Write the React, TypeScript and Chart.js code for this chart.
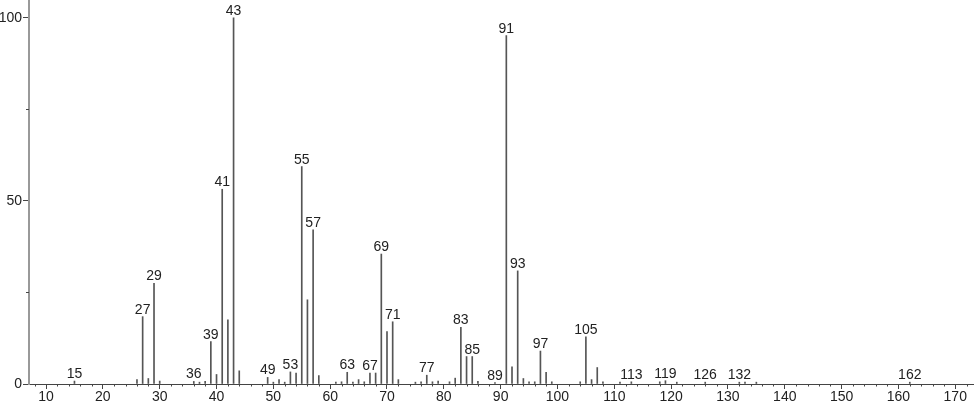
import React, { useEffect, useRef } from "react";
import { Chart, registerables } from "chart.js";

Chart.register(...registerables);

const mz = [
  15, 26, 27, 28, 29, 30, 36, 37, 38, 39, 40, 41, 42, 43, 44, 49, 50, 51, 52, 53,
  54, 55, 56, 57, 58, 61, 62, 63, 64, 65, 66, 67, 68, 69, 70, 71, 72, 75, 76, 77,
  78, 79, 81, 82, 83, 84, 85, 86, 89, 91, 92, 93, 94, 95, 96, 97, 98, 99, 104, 105,
  106, 107, 108, 111, 113, 118, 119, 121, 126, 132, 133, 135, 162,
];
const intensity = [
  0.8, 1.2, 18.4, 1.5, 27.5, 0.8, 0.7, 0.5, 0.7, 11.6, 2.6, 53.2, 17.5, 100, 3.6, 1.8, 0.5, 1.2, 0.5, 3.3,
  3.0, 59.4, 23.0, 42.1, 2.3, 0.5, 0.6, 3.2, 0.5, 1.2, 0.6, 3.0, 3.0, 35.5, 14.3, 17.0, 1.2, 0.5, 0.6, 2.4,
  0.6, 0.8, 0.6, 1.6, 15.5, 7.5, 7.5, 0.7, 0.4, 95.2, 4.7, 30.9, 1.5, 0.6, 0.6, 9.0, 3.2, 0.6, 0.6, 12.9,
  1.2, 4.5, 0.6, 0.5, 0.6, 0.6, 0.9, 0.5, 0.5, 0.5, 0.5, 0.5, 0.5,
];
const labeledMz = [
  15, 27, 29, 36, 39, 41, 43, 49, 53, 55, 57, 63, 67, 69, 71, 77, 83, 85, 89, 91,
  93, 97, 105, 113, 119, 126, 132, 162,
];
const xMin = 7;
const xMax = 173.3;
const yMax = 104.9;
const xMinorStep = 2;
const yMinorTicks = [25, 75];

const FONT = { family: "'Liberation Sans', Arial, sans-serif", size: 14 };
const TEXT = "#222";

export default function App() {
  const ref = useRef<HTMLCanvasElement>(null);

  useEffect(() => {
    if (!ref.current) return;

    const peakLabels = {
      id: "peakLabels",
      afterDatasetsDraw(chart: any) {
        const ctx = chart.ctx;
        const xs = chart.scales.x;
        const ys = chart.scales.y;
        ctx.save();
        ctx.font = `${FONT.size}px ${FONT.family}`;
        ctx.fillStyle = TEXT;
        ctx.textAlign = "center";
        ctx.textBaseline = "alphabetic";
        labeledMz.forEach((m) => {
          const i = mz.indexOf(m);
          if (i < 0) return;
          const px = xs.getPixelForValue(m);
          const py = ys.getPixelForValue(intensity[i]);
          ctx.fillText(String(m), px, py - 3);
        });
        ctx.restore();
      },
    };

    const minorTicks = {
      id: "minorTicks",
      afterDraw(chart: any) {
        const ctx = chart.ctx;
        const xs = chart.scales.x;
        const ys = chart.scales.y;
        const area = chart.chartArea;
        ctx.save();
        ctx.strokeStyle = "#444";
        ctx.lineWidth = 1;
        ctx.beginPath();
        for (let v = Math.ceil(xMin / xMinorStep) * xMinorStep; v <= xMax; v += xMinorStep) {
          if (v % 10 === 0) continue;
          const px = Math.round(xs.getPixelForValue(v)) + 0.5;
          ctx.moveTo(px, area.bottom);
          ctx.lineTo(px, area.bottom + 2.5);
        }
        yMinorTicks.forEach((v) => {
          const py = Math.round(ys.getPixelForValue(v)) + 0.5;
          ctx.moveTo(area.left - 3, py);
          ctx.lineTo(area.left, py);
        });
        ctx.stroke();
        ctx.restore();
      },
    };

    const chart = new Chart(ref.current, {
      type: "bar",
      data: {
        datasets: [
          {
            data: mz.map((m, i) => ({ x: m, y: intensity[i] })),
            backgroundColor: "#555",
            borderWidth: 0,
            barThickness: 1,
          },
        ],
      },
      options: {
        animation: false,
        responsive: true,
        maintainAspectRatio: false,
        layout: { padding: 0 },
        plugins: { legend: { display: false }, tooltip: { enabled: false } },
        scales: {
          x: {
            type: "linear",
            min: xMin,
            max: xMax,
            offset: false,
            grid: { drawOnChartArea: false, drawTicks: true, tickLength: 5, tickColor: "#444", offset: false },
            border: { display: true, color: "#444", width: 1 },
            ticks: {
              stepSize: 10,
              includeBounds: false,
              autoSkip: false,
              maxRotation: 0,
              padding: 0,
              font: FONT,
              color: TEXT,
            },
            afterFit: (s: any) => {
              s.height = 22;
              s.paddingLeft = 0;
              s.paddingRight = 0;
            },
          },
          y: {
            min: 0,
            max: yMax,
            grid: { drawOnChartArea: false, drawTicks: true, tickLength: 6, tickColor: "#444" },
            border: { display: true, color: "#999", width: 2 },
            ticks: {
              stepSize: 50,
              includeBounds: false,
              padding: 1,
              font: FONT,
              color: TEXT,
            },
            afterFit: (s: any) => {
              s.width = 29;
              s.paddingTop = 0;
              s.paddingBottom = 0;
            },
          },
        },
      },
      plugins: [peakLabels, minorTicks],
    } as any);

    return () => chart.destroy();
  }, []);

  return (
    <div style={{ position: "fixed", left: 0, top: 0, width: 974, height: 406, background: "#fff" }}>
      <canvas ref={ref} />
    </div>
  );
}
